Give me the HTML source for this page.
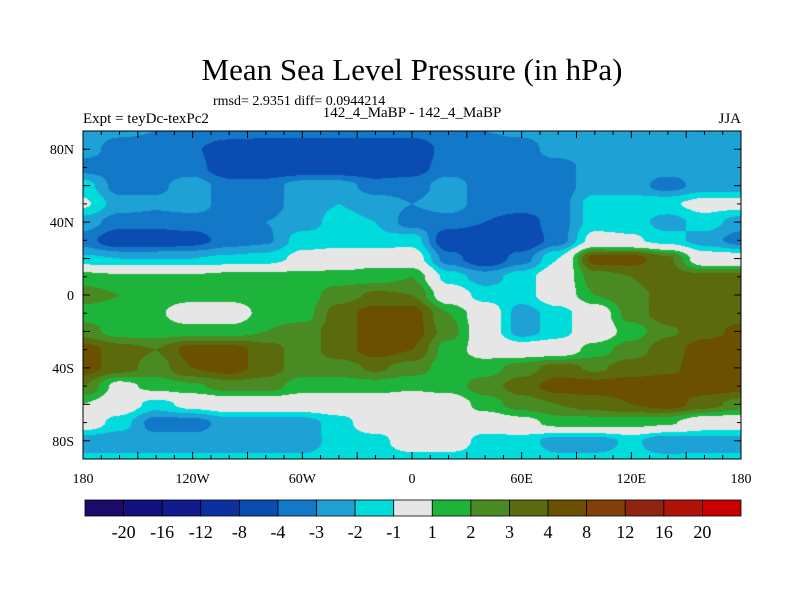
<!DOCTYPE html>
<html><head><meta charset="utf-8">
<style>
html,body{margin:0;padding:0;background:#fff;}
#wrap{position:relative;width:800px;height:600px;overflow:hidden;font-family:"Liberation Serif",serif;color:#000;}
.t{position:absolute;white-space:nowrap;}
</style></head>
<body>
<div id="wrap">
<div class="t" style="left:0;width:824px;text-align:center;top:52px;font-size:31px;">Mean Sea Level Pressure (in hPa)</div>
<div class="t" style="left:213px;top:94px;font-size:14px;">rmsd= 2.9351 diff= 0.0944214</div>
<div class="t" style="left:83px;top:111px;font-size:15px;">Expt = teyDc-texPc2</div>
<div class="t" style="left:0;width:824px;text-align:center;top:105px;font-size:15px;">142_4_MaBP - 142_4_MaBP</div>
<div class="t" style="right:59px;top:111px;font-size:15px;">JJA</div>
<canvas id="map" width="658" height="328" style="position:absolute;left:83px;top:131px;"></canvas>
<svg id="ov" width="800" height="600" style="position:absolute;left:0;top:0;"></svg>
</div>
<script>
const lons=[-180,-160,-140,-120,-100,-80,-60,-40,-20,0,20,40,60,80,100,120,140,160,180];
const lats=[90,80,70,60,50,40,30,20,10,0,-10,-20,-30,-40,-50,-60,-70,-80,-90];
const r90=[-2.5,-2.8,-3,-3,-3.2,-3.5,-3.5,-3.5,-3.5,-3.5,-3.2,-3,-2.8,-2.5,-2.5,-2.5,-2.5,-2.5,-2.5];
const r80=[-2.5,-3.5,-3.5,-3.8,-5,-5,-5,-5,-5,-5,-3.5,-3.5,-3.5,-2.5,-2.5,-2.5,-2.5,-2.5,-2.2];
const r70=[-3.5,-3.5,-3.5,-3.5,-5,-5,-5,-5,-5,-4.5,-3.5,-3.5,-3.5,-3.5,-2.5,-2.5,-2.5,-2.5,-2.5];
const r60=[-1.5,-3.5,-3.2,-2.5,-3.5,-3.5,-2.5,-2.5,-3.5,-3.5,-2.5,-3.5,-3.5,-3.5,-2.5,-2.5,-3.5,-2.5,-2.5];
const r50=[-0.8,-2.5,-2.8,-2.5,-3.5,-3.5,-2.5,-2,-2.5,-3,-2.5,-3.5,-3.5,-3.5,-1.5,-1.5,-1.2,-0.5,-0.5];
const r40=[-2.5,-3.5,-3.5,-3.5,-3.5,-3,-2.5,-1.6,-2,-3.5,-3.5,-4,-4.5,-3.5,-1.5,-1.5,-2.5,-1.5,-2.5];
const r30=[-3.5,-5,-5,-4.5,-3.5,-3.2,-1.5,-1.5,-1.8,-1.4,-5,-5,-5,-3.5,-0.5,-0.8,-1.5,-2.5,-3.5];
const r20=[-1.8,-2,-2,-2,-1.8,-1.6,-0.6,-0.2,0.5,-0.2,-3.5,-5,-3.5,-1,4.5,4.5,3.2,-0.2,-0.2];
const r10=[1.5,1.2,1.2,1.2,1.5,1.5,1.5,1.5,1.5,2,-1.5,-2.5,-1.5,0,2.5,3,3.5,3.3,3.3];
const r00=[2.5,2,1.5,1.5,1.5,1.5,1.5,2.5,3.2,3,0,-1.5,-1.5,0,2,2.8,3.2,3.6,3.6];
const s10=[1.5,1.5,1.2,0,0,1.5,1.5,3.5,4.5,4.5,2,0,-2.5,-1.5,0,2.5,3.6,3.7,3.7];
const s20=[2.5,1.5,1.5,1.5,1.5,2,2.5,3.5,4.5,4.5,2.5,0,-2.5,-1.5,0,1.5,2.8,3.7,4.2];
const s30=[4.5,3.5,3,4.5,4.5,3.5,2.5,3.5,4.5,4,1.5,0.5,0,0,1.5,2.5,3.6,4.5,4.5];
const s40=[4.5,3.5,2.5,4,4.5,3.5,2.5,2.5,3.2,2.5,1.5,1.5,2.5,3.5,2.8,3.5,3.8,4.5,4.5];
const s50=[3,0.5,1.5,1.8,2.5,2.5,1.5,1.5,1.5,1.2,1.5,2.5,3.5,4.5,4.5,4.5,4.5,4.5,4.5];
const s60=[1,0,-1.5,-0.5,0,0,0,0,0,0,0,1.5,2.5,3,3.5,4,4.5,3.5,2.5];
const s70=[0,-1.5,-3.5,-3.5,-2.5,-2.5,-2.5,-1.5,0,0,0,0,0.5,1.5,1.5,1.5,1.2,0,0];
const s80=[-2.6,-2.6,-2.6,-2.6,-2.6,-2.6,-2.6,-1.5,-1.5,0,0,-1.5,-1.5,-2.5,-2.5,-1.8,-2.8,-2.5,-2.5];
const s90=[-1.8,-1.8,-1.8,-1.8,-1.8,-1.8,-1.8,-1.6,-1.6,-1.5,-1.5,-1.5,-1.6,-1.8,-1.8,-1.8,-1.8,-1.8,-1.8];
const grid=[r90,r80,r70,r60,r50,r40,r30,r20,r10,r00,s10,s20,s30,s40,s50,s60,s70,s80,s90];
const levels=[-20,-16,-12,-8,-4,-3,-2,-1,1,2,3,4,8,12,16,20];
const levelLabels=["-20","-16","-12","-8","-4","-3","-2","-1","1","2","3","4","8","12","16","20"];
const colors=["#1c0a6a","#12107c","#101c8e","#0c30a0","#0a4cb2","#1478c8","#1ea2d6","#00dcdc","#e6e6e6","#1eb43c","#4a8a22","#5a6a0c","#6a5000","#844008","#902410","#b01408","#c80000"];
const xTicks=[-180,-120,-60,0,60,120,180];
const xTickLabels=["180","120W","60W","0","60E","120E","180"];
const yTicks=[80,40,0,-40,-80];
const yTickLabels=["80N","40N","0","40S","80S"];

const X0=83,X1=741,Y0=131,Y1=459;
function xs(lon){return X0+(lon+180)/360*(X1-X0);}
function ys(lat){return Y0+(90-lat)/180*(Y1-Y0);}
function lvl(v){let i=0;while(i<levels.length&&v>=levels[i])i++;return i;}
function hex(c){return [parseInt(c.substr(1,2),16),parseInt(c.substr(3,2),16),parseInt(c.substr(5,2),16)];}
const rgb=colors.map(hex);

const cv=document.getElementById('map');const ctx=cv.getContext('2d');
const W=cv.width,H=cv.height;const img=ctx.createImageData(W,H);
const nC=lons.length,nR=lats.length;
function val(fx,fy){
  const i=Math.min(Math.floor(fx),nC-2),j=Math.min(Math.floor(fy),nR-2);
  const tx=fx-i,ty=fy-j;
  const sx=tx*tx*(3-2*tx),sy=ty*ty*(3-2*ty);
  const a=grid[j][i],b=grid[j][i+1],c=grid[j+1][i],d=grid[j+1][i+1];
  return (a*(1-sx)+b*sx)*(1-sy)+(c*(1-sx)+d*sx)*sy;
}
for(let py=0;py<H;py++){
  const lat=90-(py+0.5)/H*180;
  const fy=(lats[0]-lat)/(lats[0]-lats[nR-1])*(nR-1);
  for(let px=0;px<W;px++){
    const lon=-180+(px+0.5)/W*360;
    const fx=(lon-lons[0])/(lons[nC-1]-lons[0])*(nC-1);
    const c=rgb[lvl(val(fx,fy))];
    const k=(py*W+px)*4;img.data[k]=c[0];img.data[k+1]=c[1];img.data[k+2]=c[2];img.data[k+3]=255;
  }
}
ctx.putImageData(img,0,0);

const NS='http://www.w3.org/2000/svg';const svg=document.getElementById('ov');
function mk(tag,at){const e=document.createElementNS(NS,tag);for(const k in at)e.setAttribute(k,at[k]);svg.appendChild(e);return e;}

const fr=mk('rect',{x:X0,y:Y0,width:X1-X0,height:Y1-Y0,fill:'none',stroke:'#000','stroke-width':1});



for(let lon=-180;lon<=180;lon+=10){
  const L=(lon%30===0)?7:4;const x=xs(lon);
  const t1=mk('line',{x1:x,y1:Y0,x2:x,y2:Y0+L,stroke:'#000','stroke-width':1});
  
  
  const t2=mk('line',{x1:x,y1:Y1,x2:x,y2:Y1-L,stroke:'#000','stroke-width':1});
  
  
}
for(let lat=-90;lat<=90;lat+=10){
  const L=(lat%20===0)?7:4;const y=ys(lat);
  const t1=mk('line',{x1:X0,y1:y,x2:X0+L,y2:y,stroke:'#000','stroke-width':1});
  
  
  const t2=mk('line',{x1:X1,y1:y,x2:X1-L,y2:y,stroke:'#000','stroke-width':1});
  
  
}
xTicks.forEach((v,i)=>{
  const t=mk('text',{x:xs(v),y:483,'text-anchor':'middle','font-size':14,'font-family':'Liberation Serif, serif'});
  t.textContent=xTickLabels[i];
  
  
});
yTicks.forEach((v,i)=>{
  const t=mk('text',{x:74,y:ys(v)+5,'text-anchor':'end','font-size':14,'font-family':'Liberation Serif, serif'});
  t.textContent=yTickLabels[i];
  
  
});

const CB0=85,CB1=741,CBY=500,CBH=16;const bw=(CB1-CB0)/colors.length;
colors.forEach((c,i)=>{
  const r=mk('rect',{x:CB0+i*bw,y:CBY,width:bw,height:CBH,fill:c,stroke:'#000','stroke-width':0.8});
  
  
});
levelLabels.forEach((s,i)=>{
  const t=mk('text',{x:CB0+(i+1)*bw,y:538,'text-anchor':'middle','font-size':18,'font-family':'Liberation Serif, serif'});
  t.textContent=s;
  
  
});
</script>
</body></html>
